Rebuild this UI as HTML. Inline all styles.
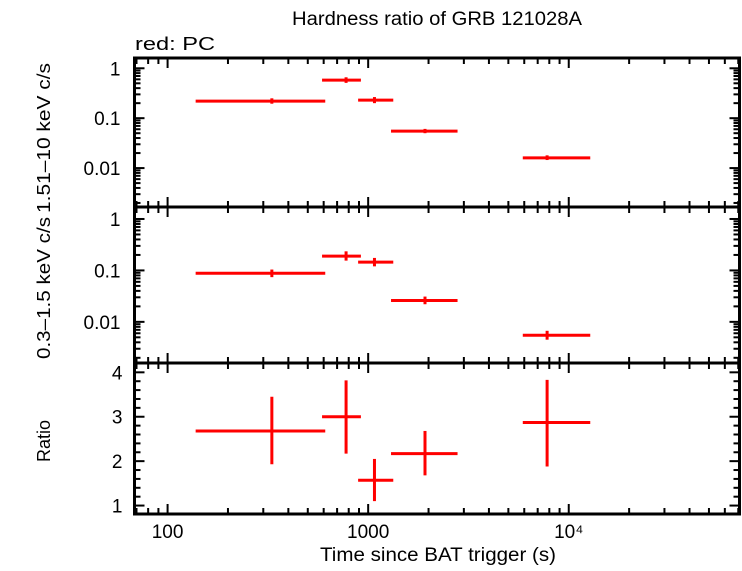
<!DOCTYPE html>
<html><head><meta charset="utf-8"><style>
body{margin:0;background:#fff}
svg text{font-family:"Liberation Sans",sans-serif;fill:#000}
</style></head><body>
<svg id="c" width="742" height="566" xmlns="http://www.w3.org/2000/svg">
<text x="437" y="25" font-size="19" text-anchor="middle" textLength="290" lengthAdjust="spacingAndGlyphs">Hardness ratio of GRB 121028A</text>
<text x="135" y="50" font-size="18" textLength="80" lengthAdjust="spacingAndGlyphs">red: PC</text>
<text x="438" y="561" font-size="19" text-anchor="middle" textLength="236" lengthAdjust="spacingAndGlyphs">Time since BAT trigger (s)</text>
<text transform="translate(50,138) rotate(-90)" font-size="18" text-anchor="middle" textLength="150" lengthAdjust="spacingAndGlyphs">1.51–10 keV c/s</text>
<text transform="translate(50,288) rotate(-90)" font-size="18" text-anchor="middle" textLength="142" lengthAdjust="spacingAndGlyphs">0.3–1.5 keV c/s</text>
<text transform="translate(50,441) rotate(-90)" font-size="18" text-anchor="middle">Ratio</text>
</svg>
<script>
const tStart=[138,589,891,1300,5900];
const tEnd=[611,920,1334,2790,12800];
const tMid=[331,776,1075,1920,7800];
const hard=[0.22,0.58,0.23,0.055,0.016];
const hardLo=[0.195,0.51,0.2,0.05,0.0145];
const hardHi=[0.25,0.66,0.265,0.061,0.018];
const soft=[0.088,0.19,0.145,0.026,0.0055];
const softLo=[0.074,0.155,0.12,0.022,0.0045];
const softHi=[0.104,0.235,0.175,0.031,0.0067];
const ratio=[2.68,3.0,1.57,2.17,2.87];
const ratioLo=[1.93,2.17,1.1,1.68,1.88];
const ratioHi=[3.45,3.82,2.05,2.68,3.83];
const xTicks=["100","1000","10⁴"];
const logTicks=["1","0.1","0.01"];
const ratioTicks=["1","2","3","4"];

const svg=document.getElementById('c');
const NS='http://www.w3.org/2000/svg';
const L=134.5,R=739.5;
const xmin=Math.log10(68.4),xmax=Math.log10(71000);
const X=v=>L+(Math.log10(v)-xmin)/(xmax-xmin)*(R-L);
function mk(t,a){const e=document.createElementNS(NS,t);for(const k in a)e.setAttribute(k,a[k]);svg.appendChild(e);return e;}
const panels=[
 {top:58,bot:207,log:true,lo:-2.78,hi:0.206,v:hard,vl:hardLo,vh:hardHi,n:'hard'},
 {top:207,bot:363,log:true,lo:-2.8,hi:0.233,v:soft,vl:softLo,vh:softHi,n:'soft'},
 {top:363,bot:514,log:false,lo:0.81,hi:4.21,v:ratio,vl:ratioLo,vh:ratioHi,n:'ratio'}];
panels.forEach((p,pi)=>{
 const Y=v=>{const t=p.log?Math.log10(v):v;return p.bot-(t-p.lo)/(p.hi-p.lo)*(p.bot-p.top);};
 let r=mk('rect',{x:L,y:p.top,width:R-L,height:p.bot-p.top,fill:'none',stroke:'#000','stroke-width':3});
 
 
 for(let d=1;d<=4;d++)for(let m=1;m<10;m++){const v=m*Math.pow(10,d);if(v<68.4||v>71000)continue;const x=X(v);const len=m==1?10:6;
  mk('line',{x1:x,y1:p.top,x2:x,y2:p.top+len,stroke:'#000','stroke-width':2});
  mk('line',{x1:x,y1:p.bot,x2:x,y2:p.bot-len,stroke:'#000','stroke-width':2});}
 if(p.log){
  for(let d=-3;d<=0;d++)for(let m=1;m<10;m++){const v=m*Math.pow(10,d);const lv=Math.log10(v);if(lv<p.lo||lv>p.hi)continue;const y=Y(v);const len=m==1?10:6;
   mk('line',{x1:L,y1:y,x2:L+len,y2:y,stroke:'#000','stroke-width':2});
   mk('line',{x1:R,y1:y,x2:R-len,y2:y,stroke:'#000','stroke-width':2});}
  logTicks.forEach(t=>{const e=mk('text',{x:L-14,y:Y(parseFloat(t))+7,'font-size':19,'text-anchor':'end'});e.textContent=t;
   
   });
 } else {
  for(let v=1;v<=4.2;v+=0.2){const y=Y(v);const maj=Math.abs(v-Math.round(v))<0.01;const len=maj?10:6;
   mk('line',{x1:L,y1:y,x2:L+len,y2:y,stroke:'#000','stroke-width':2});
   mk('line',{x1:R,y1:y,x2:R-len,y2:y,stroke:'#000','stroke-width':2});}
  ratioTicks.forEach(t=>{const e=mk('text',{x:L-12,y:Y(parseFloat(t))+7,'font-size':19,'text-anchor':'end'});e.textContent=t;
   
   });
 }
 p.v.forEach((v,i)=>{
  const g=mk('g',{stroke:'#f00','stroke-width':3});
  
  
  const y=Y(v),xm=X(tMid[i]);
  const a=document.createElementNS(NS,'line');a.setAttribute('x1',X(tStart[i]));a.setAttribute('x2',X(tEnd[i]));a.setAttribute('y1',y);a.setAttribute('y2',y);g.appendChild(a);
  const b=document.createElementNS(NS,'line');b.setAttribute('x1',xm);b.setAttribute('x2',xm);b.setAttribute('y1',Y(p.vl[i]));b.setAttribute('y2',Y(p.vh[i]));g.appendChild(b);
 });
});
xTicks.forEach((t,i)=>{const v=Math.pow(10,i+2);const e=mk('text',{x:X(v),y:538,'font-size':19,'text-anchor':'middle'});e.textContent=t;
 
 });
</script>
</body></html>
